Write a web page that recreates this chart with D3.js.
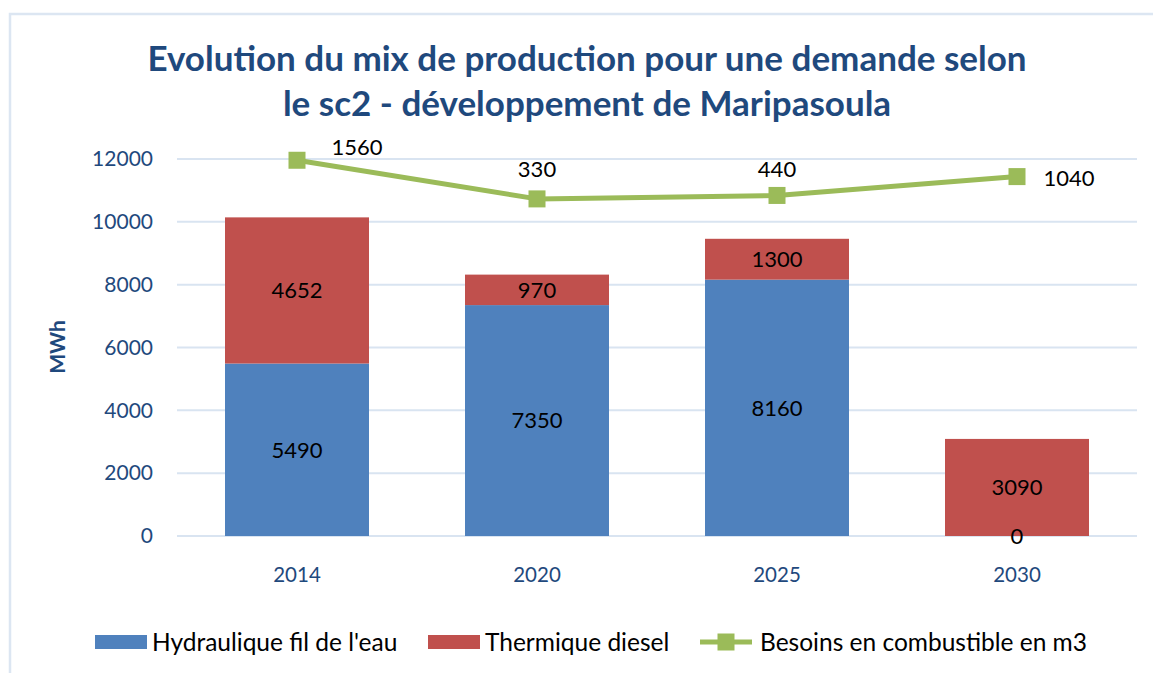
<!DOCTYPE html>
<html>
<head>
<meta charset="utf-8">
<script src="https://cdn.jsdelivr.net/npm/d3@7"></script>
<style>
  body{margin:0;background:#fff;}
  svg text{font-family:Lato,"Open Sans",sans-serif;}
</style>
</head>
<body>
<div id="chart"></div>
<script>
// data
var years=["2014","2020","2025","2030"];
var hydro=[5490,7350,8160,0];
var diesel=[4652,970,1300,3090];
var fuel=[1560,330,440,1040];
var yTicks=[0,2000,4000,6000,8000,10000,12000];
var titleLines=["Evolution du mix de production pour une demande selon","le sc2 - développement de Maripasoula"];
var legendNames=["Hydraulique fil de l'eau","Thermique diesel","Besoins en combustible en m3"];

// styles
var W=1153,H=673;
var blue="#4F81BD",red="#C0504D",green="#9BBB59";
var navy="#1F497D",gridColor="#D9E4F1";
var plot={left:177,right:1137,top:159,bottom:536};
// where the line labels sit, relative to the marker
var fuelLabelPos=[[60,-13],[0,-30],[0,-26],[52,1]];

var svg=d3.select("#chart").append("svg").attr("width",W).attr("height",H);

// chart border
svg.append("path").attr("d","M10,"+H+" V14 H"+W)
  .attr("fill","none").attr("stroke","#DCE6F2").attr("stroke-width",2.5);

// title
svg.append("g").selectAll("text").data(titleLines).enter().append("text")
  .attr("x",587).attr("y",function(d,i){return 71+i*45;})
  .attr("text-anchor","middle").attr("font-size",35).attr("font-weight","bold")
  .attr("fill",navy).text(function(d){return d;});

var x=d3.scaleBand().domain(years).range([plot.left,plot.right]).paddingInner(0.4).paddingOuter(0.2);
var y=d3.scaleLinear().domain([0,12000]).range([plot.bottom,plot.top]);
// hidden secondary axis for the fuel line
var y2=d3.scaleLinear().domain([-10400,1600]).range([plot.bottom,plot.top]);

// grid
svg.append("g").selectAll("line").data(yTicks).enter().append("line")
  .attr("x1",plot.left).attr("x2",plot.right)
  .attr("y1",function(d){return y(d);}).attr("y2",function(d){return y(d);})
  .attr("stroke",gridColor).attr("stroke-width",2);

// y axis
var yAxis=svg.append("g").attr("transform","translate(153,0)")
  .call(d3.axisLeft(y).tickValues(yTicks).tickSize(0).tickPadding(0).tickFormat(d3.format("d")));
yAxis.select(".domain").remove();
yAxis.selectAll("text").attr("font-size",21).attr("fill",navy).attr("font-family","Lato");

svg.append("text").attr("transform","translate(65,347) rotate(-90)")
  .attr("text-anchor","middle").attr("font-size",21).attr("font-weight","bold")
  .attr("fill",navy).text("MWh");

// x axis
var xAxis=svg.append("g").attr("transform","translate(0,"+(plot.bottom+28)+")")
  .call(d3.axisBottom(x).tickSize(0).tickPadding(0));
xAxis.select(".domain").remove();
xAxis.selectAll("text").attr("font-size",20.5).attr("fill",navy).attr("font-family","Lato").attr("dy","0.9em");

// stacked bars
var rows=years.map(function(yr,i){return {year:yr,hydro:hydro[i],diesel:diesel[i]};});
var stack=d3.stack().keys(["hydro","diesel"])(rows);
var colors={hydro:blue,diesel:red};

var layers=svg.append("g").selectAll("g").data(stack).enter().append("g")
  .attr("fill",function(d){return colors[d.key];});
layers.selectAll("rect").data(function(d){return d;}).enter().append("rect")
  .attr("x",function(d){return x(d.data.year);})
  .attr("width",x.bandwidth())
  .attr("y",function(d){return y(d[1]);})
  .attr("height",function(d){return y(d[0])-y(d[1]);});

// bar labels
stack.forEach(function(layer){
  svg.append("g").selectAll("text").data(layer).enter().append("text")
    .attr("x",function(d){return x(d.data.year)+x.bandwidth()/2;})
    .attr("y",function(d){return y((d[0]+d[1])/2);})
    .attr("dy","0.36em").attr("text-anchor","middle")
    .attr("font-size",22).attr("fill","#000")
    .text(function(d){return d.data[layer.key];});
});

// fuel line
var cx=function(i){return x(years[i])+x.bandwidth()/2;};
var line=d3.line().x(function(d,i){return cx(i);}).y(function(d){return y2(d);});
svg.append("path").datum(fuel).attr("d",line)
  .attr("fill","none").attr("stroke",green).attr("stroke-width",5).attr("stroke-linejoin","round");
svg.append("g").selectAll("rect").data(fuel).enter().append("rect")
  .attr("x",function(d,i){return cx(i)-8.5;}).attr("y",function(d){return y2(d)-8.5;})
  .attr("width",17).attr("height",17).attr("fill",green);
svg.append("g").selectAll("text").data(fuel).enter().append("text")
  .attr("x",function(d,i){return cx(i)+fuelLabelPos[i][0];})
  .attr("y",function(d,i){return y2(d)+fuelLabelPos[i][1];})
  .attr("dy","0.36em").attr("text-anchor","middle")
  .attr("font-size",22).attr("fill","#000").text(function(d){return d;});

// legend
var lg=svg.append("g").attr("transform","translate(0,642)");
var legendX=[95,428,700];
legendNames.forEach(function(name,i){
  var g=lg.append("g").attr("transform","translate("+legendX[i]+",0)");
  if(i<2){
    g.append("rect").attr("x",0).attr("y",-7).attr("width",52).attr("height",14).attr("fill",i==0?blue:red);
  } else {
    g.append("line").attr("x1",0).attr("x2",52).attr("y1",0).attr("y2",0).attr("stroke",green).attr("stroke-width",5);
    g.append("rect").attr("x",17.5).attr("y",-8.5).attr("width",17).attr("height",17).attr("fill",green);
  }
  g.append("text").attr("x",i<2?57:60).attr("y",0).attr("dy","0.36em")
    .attr("font-size",24.5).attr("fill","#000").text(name);
});
</script>
</body>
</html>
